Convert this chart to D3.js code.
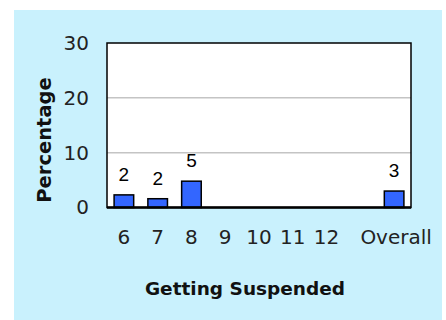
<!DOCTYPE html>
<html>
<head>
<meta charset="utf-8">
<script src="https://cdn.jsdelivr.net/npm/d3@7"></script>
<style>
  html, body { margin: 0; padding: 0; background: #ffffff; }
  svg { display: block; }
</style>
</head>
<body>
<svg id="chart" width="446" height="320"></svg>
<script>
// Categories along the x axis (a blank slot separates grade 12 from Overall)
const categories = ["6", "7", "8", "9", "10", "11", "12", "", "Overall"];
// Percentage of students getting suspended, per category (null = no bar)
const values = [2.3, 1.6, 4.8, null, null, null, null, null, 3.0];
// Y axis tick values
const yTicks = [0, 10, 20, 30];

const svg = d3.select("#chart");

const panel = { x: 14, y: 10, w: 428, h: 310 };
const plot = { left: 107, top: 43, right: 411, bottom: 207.5 };

const geo = "'DejaVu Sans', Verdana, sans-serif";

// Light blue chart area
svg.append("rect")
  .attr("x", panel.x).attr("y", panel.y)
  .attr("width", panel.w).attr("height", panel.h)
  .attr("fill", "#c9f1fd");

// Plot area
svg.append("rect")
  .attr("x", plot.left).attr("y", plot.top)
  .attr("width", plot.right - plot.left).attr("height", plot.bottom - plot.top)
  .attr("fill", "#ffffff");

const x = d3.scaleBand()
  .domain(categories.map((c, i) => i))
  .range([plot.left, plot.right])
  .paddingInner(0.42)
  .paddingOuter(0.21);

const y = d3.scaleLinear()
  .domain([0, 30])
  .range([plot.bottom, plot.top]);

// Horizontal gridlines
svg.append("g")
  .selectAll("line")
  .data(yTicks.filter(t => t > 0 && t < 30))
  .join("line")
  .attr("x1", plot.left).attr("x2", plot.right)
  .attr("y1", d => y(d)).attr("y2", d => y(d))
  .attr("stroke", "#c4c4c4")
  .attr("stroke-width", 1.5);

// Bars
const barData = values.map((v, i) => ({ i, v })).filter(d => d.v != null);
svg.append("g")
  .selectAll("rect")
  .data(barData)
  .join("rect")
  .attr("x", d => x(d.i))
  .attr("y", d => y(d.v))
  .attr("width", x.bandwidth())
  .attr("height", d => y(0) - y(d.v))
  .attr("fill", "#3366ff")
  .attr("stroke", "#000000")
  .attr("stroke-width", 1.5);

// Value labels above bars
svg.append("g")
  .selectAll("text")
  .data(barData)
  .join("text")
  .attr("x", d => x(d.i) + x.bandwidth() / 2)
  .attr("y", d => y(d.v) - 14)
  .attr("text-anchor", "middle")
  .attr("font-family", "'Liberation Sans', Arial, sans-serif")
  .attr("font-size", 19)
  .attr("fill", "#000000")
  .text(d => d3.format(".0f")(d.v));

// Plot frame
svg.append("rect")
  .attr("x", plot.left).attr("y", plot.top)
  .attr("width", plot.right - plot.left).attr("height", plot.bottom - plot.top)
  .attr("fill", "none")
  .attr("stroke", "#000000")
  .attr("stroke-width", 1.5);
svg.append("line")
  .attr("x1", plot.left).attr("x2", plot.right)
  .attr("y1", plot.bottom).attr("y2", plot.bottom)
  .attr("stroke", "#000000")
  .attr("stroke-width", 2.5);

// Y axis
const yAxis = svg.append("g")
  .attr("transform", `translate(${plot.left},0)`)
  .call(d3.axisLeft(y).tickValues(yTicks).tickSize(0).tickPadding(18));
yAxis.select(".domain").remove();
yAxis.selectAll("text")
  .attr("font-family", geo)
  .attr("font-size", 20)
  .attr("fill", "#222222");

// X axis
const xAxis = svg.append("g")
  .attr("transform", `translate(0,${plot.bottom})`)
  .call(d3.axisBottom(x).tickFormat(i => categories[i]).tickSize(0).tickPadding(22));
xAxis.select(".domain").remove();
xAxis.selectAll("text")
  .attr("font-family", geo)
  .attr("font-size", 20)
  .attr("fill", "#222222");
xAxis.selectAll(".tick")
  .filter(i => categories[i] === "Overall")
  .select("text")
  .attr("dx", 2);

// Axis titles
svg.append("text")
  .attr("x", 245).attr("y", 295)
  .attr("text-anchor", "middle")
  .attr("font-family", geo)
  .attr("font-weight", "bold")
  .attr("font-size", 18.5)
  .attr("fill", "#111111")
  .text("Getting Suspended");

svg.append("text")
  .attr("transform", "translate(51,140) rotate(-90)")
  .attr("text-anchor", "middle")
  .attr("font-family", geo)
  .attr("font-weight", "bold")
  .attr("font-size", 19.5)
  .attr("fill", "#111111")
  .text("Percentage");
</script>
</body>
</html>
